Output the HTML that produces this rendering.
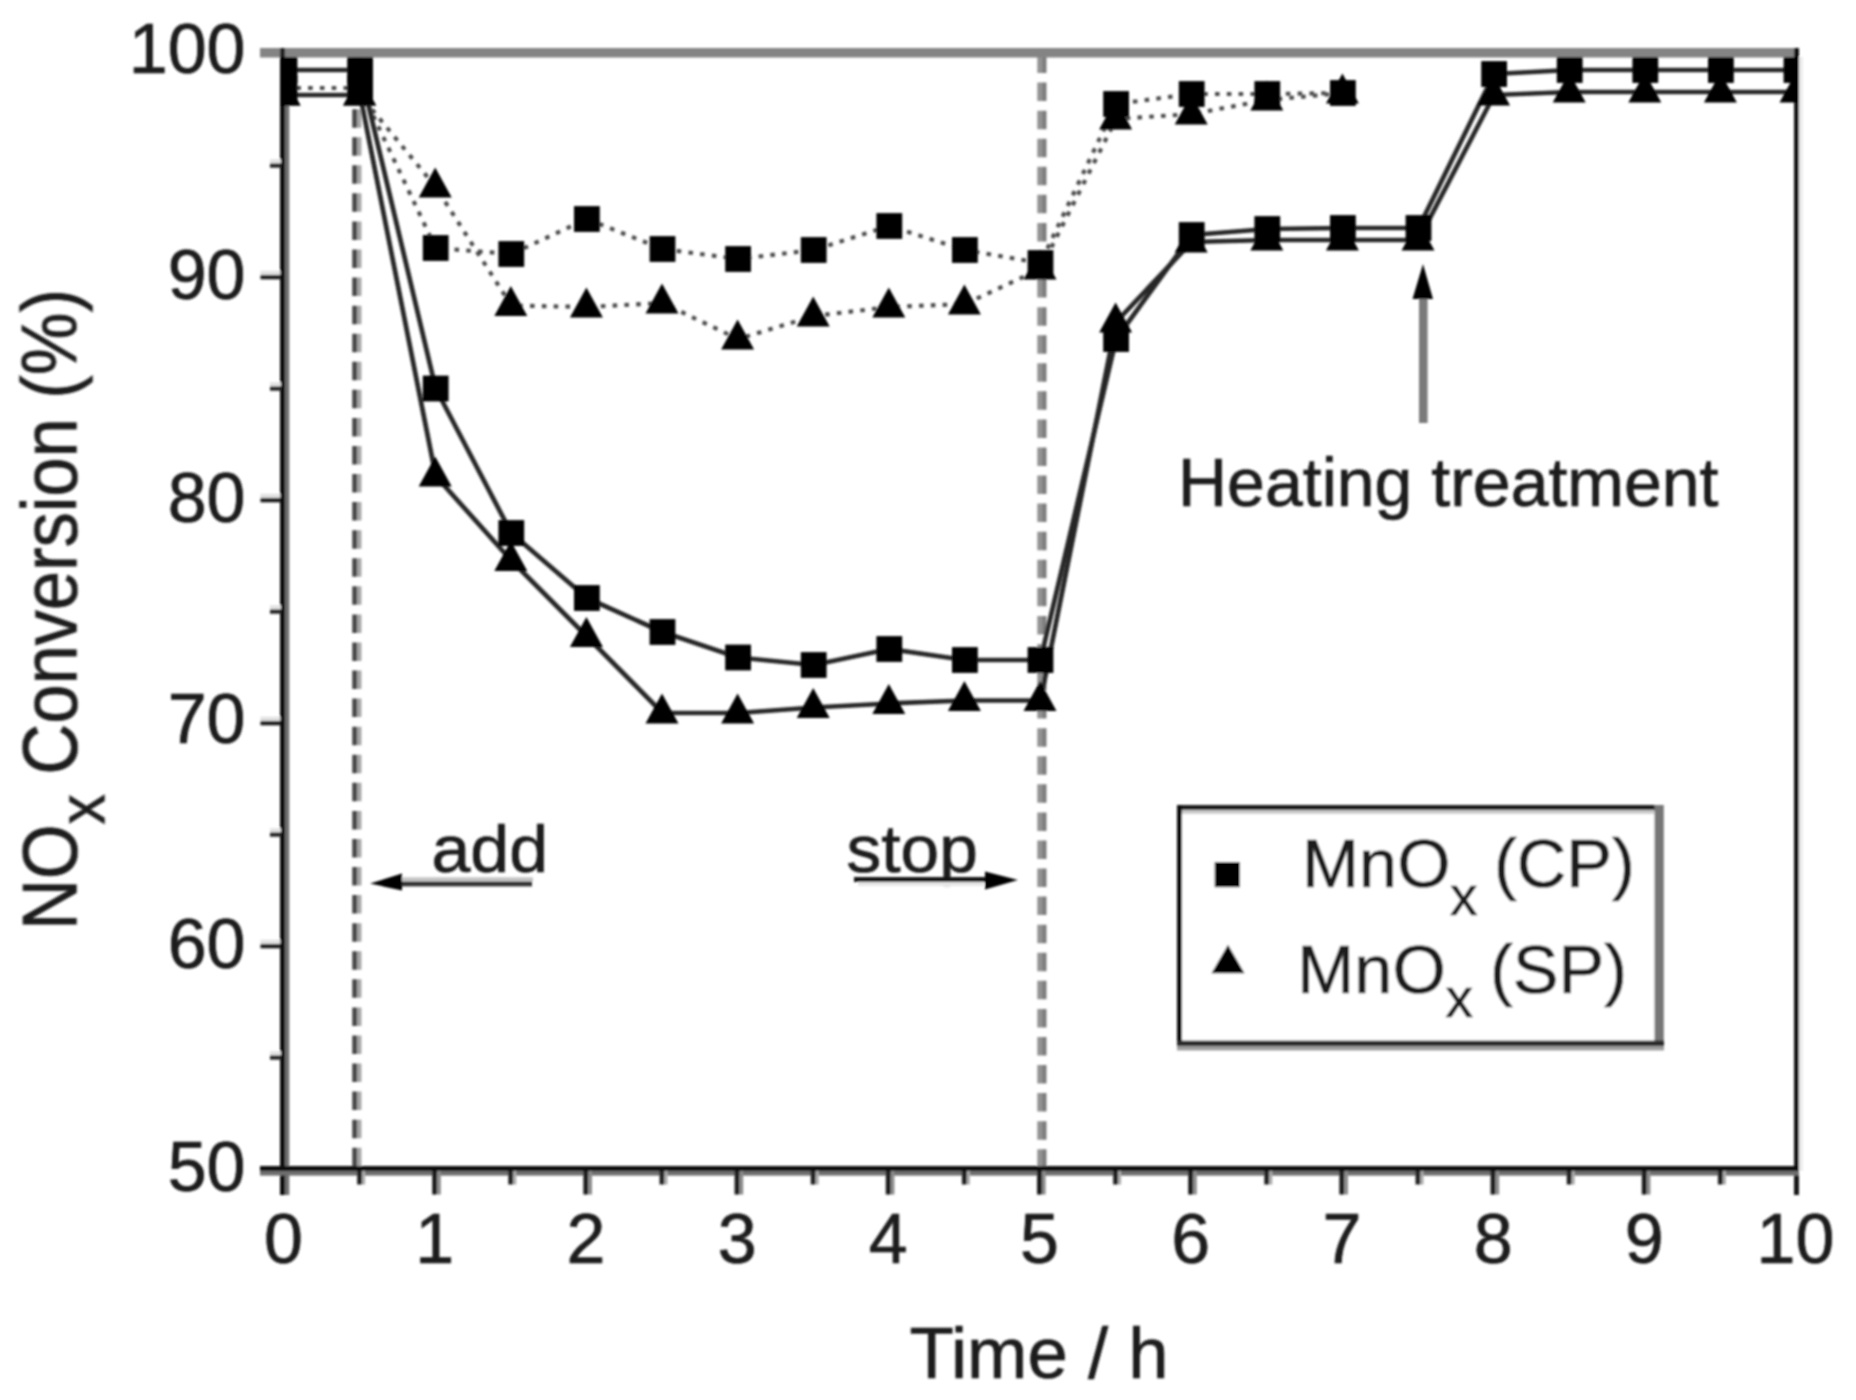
<!DOCTYPE html>
<html lang="en"><head><meta charset="utf-8"><title>NOx conversion vs time</title>
<style>
html,body{margin:0;padding:0;background:#fff;}
body{width:1856px;height:1400px;overflow:hidden;}
svg{display:block;}
text{font-family:"Liberation Sans", sans-serif;fill:#1c1c1c;stroke:#1c1c1c;stroke-width:0.7px;}
.tk{font-size:70px;}
.an{font-size:66.5px;}
.an2{font-size:68px;}
.lg{font-size:68.5px;}
.sub{font-size:55px;}
.xt{font-size:72.5px;}
.yt{font-size:77px;}
.ysub{font-size:66px;}
</style></head><body>
<svg width="1856" height="1400" viewBox="0 0 1856 1400">
<defs><filter id="soft" x="-2%" y="-2%" width="104%" height="104%"><feGaussianBlur stdDeviation="1.3"/></filter>
<clipPath id="plot"><rect x="280" y="50" width="1519" height="1122"/></clipPath></defs>
<rect x="0" y="0" width="1856" height="1400" fill="#ffffff"/>
<g filter="url(#soft)">
<line x1="354.6" y1="57" x2="354.6" y2="1166" stroke="#4a4a4a" stroke-width="4.8" stroke-dasharray="18.5 9.57" stroke-dashoffset="4.00"/>
<line x1="359.2" y1="57" x2="359.2" y2="1166" stroke="#a4a4a4" stroke-width="4.4" stroke-dasharray="18.5 9.57" stroke-dashoffset="4.00"/>
<line x1="1039.7" y1="57" x2="1039.7" y2="1166" stroke="#939393" stroke-width="4.8" stroke-dasharray="18.5 9.57" stroke-dashoffset="2.50"/>
<line x1="1044.3" y1="57" x2="1044.3" y2="1166" stroke="#7c7c7c" stroke-width="4.4" stroke-dasharray="18.5 9.57" stroke-dashoffset="2.50"/>
<rect x="260" y="48" width="1539" height="9.5" fill="#848484"/>
<rect x="1794" y="48" width="5" height="9.5" fill="#111"/>
<rect x="280" y="48" width="5" height="9.5" fill="#222"/>
<rect x="280" y="57" width="5" height="1138" fill="#0c0c0c"/>
<rect x="285" y="57" width="4.3" height="1138" fill="#6e6e6e"/>
<rect x="1794" y="57" width="5" height="1138" fill="#141414"/>
<rect x="1799" y="57" width="4" height="1114" fill="#ececec"/>
<rect x="260" y="1166" width="1539" height="5" fill="#0c0c0c"/>
<rect x="260" y="1171" width="1539" height="4.6" fill="#6e6e6e"/>
<rect x="270" y="1055.2" width="11" height="4.6" fill="#2a2a2a"/>
<rect x="270" y="1051.2" width="11" height="4" fill="#e2e2e2"/>
<rect x="260.5" y="943.7" width="20" height="4.6" fill="#1a1a1a"/>
<rect x="260.5" y="939.7" width="20" height="4" fill="#e2e2e2"/>
<rect x="270" y="832.2" width="11" height="4.6" fill="#2a2a2a"/>
<rect x="270" y="828.2" width="11" height="4" fill="#e2e2e2"/>
<rect x="260.5" y="720.7" width="20" height="4.6" fill="#1a1a1a"/>
<rect x="260.5" y="716.7" width="20" height="4" fill="#e2e2e2"/>
<rect x="270" y="609.2" width="11" height="4.6" fill="#2a2a2a"/>
<rect x="270" y="605.2" width="11" height="4" fill="#e2e2e2"/>
<rect x="260.5" y="497.7" width="20" height="4.6" fill="#1a1a1a"/>
<rect x="260.5" y="493.7" width="20" height="4" fill="#e2e2e2"/>
<rect x="270" y="386.2" width="11" height="4.6" fill="#2a2a2a"/>
<rect x="270" y="382.2" width="11" height="4" fill="#e2e2e2"/>
<rect x="260.5" y="274.7" width="20" height="4.6" fill="#1a1a1a"/>
<rect x="260.5" y="270.7" width="20" height="4" fill="#e2e2e2"/>
<rect x="270" y="163.2" width="11" height="4.6" fill="#2a2a2a"/>
<rect x="270" y="159.2" width="11" height="4" fill="#e2e2e2"/>
<rect x="357.1" y="1171" width="5" height="13.5" fill="#222"/>
<rect x="362.1" y="1171" width="3" height="13.5" fill="#aaa"/>
<rect x="432.2" y="1171" width="5" height="23.5" fill="#1a1a1a"/>
<rect x="437.2" y="1171" width="3.6" height="23.5" fill="#8a8a8a"/>
<rect x="508.3" y="1171" width="5" height="13.5" fill="#222"/>
<rect x="513.3" y="1171" width="3" height="13.5" fill="#aaa"/>
<rect x="583.4" y="1171" width="5" height="23.5" fill="#1a1a1a"/>
<rect x="588.4" y="1171" width="3.6" height="23.5" fill="#8a8a8a"/>
<rect x="659.5" y="1171" width="5" height="13.5" fill="#222"/>
<rect x="664.5" y="1171" width="3" height="13.5" fill="#aaa"/>
<rect x="734.6" y="1171" width="5" height="23.5" fill="#1a1a1a"/>
<rect x="739.6" y="1171" width="3.6" height="23.5" fill="#8a8a8a"/>
<rect x="810.7" y="1171" width="5" height="13.5" fill="#222"/>
<rect x="815.7" y="1171" width="3" height="13.5" fill="#aaa"/>
<rect x="885.8" y="1171" width="5" height="23.5" fill="#1a1a1a"/>
<rect x="890.8" y="1171" width="3.6" height="23.5" fill="#8a8a8a"/>
<rect x="961.9" y="1171" width="5" height="13.5" fill="#222"/>
<rect x="966.9" y="1171" width="3" height="13.5" fill="#aaa"/>
<rect x="1037.0" y="1171" width="5" height="23.5" fill="#1a1a1a"/>
<rect x="1042.0" y="1171" width="3.6" height="23.5" fill="#8a8a8a"/>
<rect x="1113.1" y="1171" width="5" height="13.5" fill="#222"/>
<rect x="1118.1" y="1171" width="3" height="13.5" fill="#aaa"/>
<rect x="1188.2" y="1171" width="5" height="23.5" fill="#1a1a1a"/>
<rect x="1193.2" y="1171" width="3.6" height="23.5" fill="#8a8a8a"/>
<rect x="1264.3" y="1171" width="5" height="13.5" fill="#222"/>
<rect x="1269.3" y="1171" width="3" height="13.5" fill="#aaa"/>
<rect x="1339.4" y="1171" width="5" height="23.5" fill="#1a1a1a"/>
<rect x="1344.4" y="1171" width="3.6" height="23.5" fill="#8a8a8a"/>
<rect x="1415.5" y="1171" width="5" height="13.5" fill="#222"/>
<rect x="1420.5" y="1171" width="3" height="13.5" fill="#aaa"/>
<rect x="1490.6" y="1171" width="5" height="23.5" fill="#1a1a1a"/>
<rect x="1495.6" y="1171" width="3.6" height="23.5" fill="#8a8a8a"/>
<rect x="1566.7" y="1171" width="5" height="13.5" fill="#222"/>
<rect x="1571.7" y="1171" width="3" height="13.5" fill="#aaa"/>
<rect x="1641.8" y="1171" width="5" height="23.5" fill="#1a1a1a"/>
<rect x="1646.8" y="1171" width="3.6" height="23.5" fill="#8a8a8a"/>
<rect x="1717.9" y="1171" width="5" height="13.5" fill="#222"/>
<rect x="1722.9" y="1171" width="3" height="13.5" fill="#aaa"/>
<g clip-path="url(#plot)">
<polyline points="284.5,88.0 360.1,88.0 435.7,248.0 511.3,254.0 586.9,219.0 662.5,249.0 738.1,259.0 813.7,250.0 889.3,226.0 964.9,250.0 1040.5,263.0 1116.1,104.0 1191.7,94.0 1267.3,94.0 1342.9,93.0" fill="none" stroke="#4c4c4c" stroke-width="4.1" stroke-dasharray="4.6 7.2"/>
<polyline points="284.5,95.0 360.1,95.0 435.7,187.0 511.3,305.5 586.9,307.0 662.5,303.0 738.1,339.0 813.7,316.0 889.3,307.0 964.9,304.0 1040.5,269.0 1116.1,119.0 1191.7,114.0 1267.3,100.0 1342.9,93.0" fill="none" stroke="#4c4c4c" stroke-width="4.1" stroke-dasharray="4.6 7.2"/>
<polyline points="284.5,70.0 360.1,70.0 435.7,388.5 511.3,533.0 586.9,598.0 662.5,632.0 738.1,657.5 813.7,665.0 889.3,649.0 964.9,660.0 1040.5,660.0 1116.1,339.0 1191.7,235.0 1267.3,229.0 1342.9,228.0 1418.5,228.0 1494.1,74.0 1569.7,70.0 1645.3,70.0 1720.9,70.0 1796.5,70.0" fill="none" stroke="#262626" stroke-width="4.7" stroke-linejoin="round"/>
<polyline points="284.5,95.0 360.1,95.0 435.7,476.0 511.3,560.5 586.9,636.5 662.5,713.0 738.1,713.0 813.7,707.5 889.3,703.5 964.9,700.5 1040.5,700.5 1116.1,322.0 1191.7,242.0 1267.3,240.0 1342.9,240.0 1418.5,240.0 1494.1,95.0 1569.7,92.0 1645.3,92.0 1720.9,92.0 1796.5,92.0" fill="none" stroke="#262626" stroke-width="4.7" stroke-linejoin="round"/>
<polygon points="284.0,75.5 300.5,105.5 267.5,105.5" fill="#000"/>
<polygon points="359.6,75.5 376.1,105.5 343.1,105.5" fill="#000"/>
<polygon points="435.2,167.5 451.7,197.5 418.7,197.5" fill="#000"/>
<polygon points="510.8,286.0 527.3,316.0 494.3,316.0" fill="#000"/>
<polygon points="586.4,287.5 602.9,317.5 569.9,317.5" fill="#000"/>
<polygon points="662.0,283.5 678.5,313.5 645.5,313.5" fill="#000"/>
<polygon points="737.6,319.5 754.1,349.5 721.1,349.5" fill="#000"/>
<polygon points="813.2,296.5 829.7,326.5 796.7,326.5" fill="#000"/>
<polygon points="888.8,287.5 905.3,317.5 872.3,317.5" fill="#000"/>
<polygon points="964.4,284.5 980.9,314.5 947.9,314.5" fill="#000"/>
<polygon points="1040.0,249.5 1056.5,279.5 1023.5,279.5" fill="#000"/>
<polygon points="1115.6,99.5 1132.1,129.5 1099.1,129.5" fill="#000"/>
<polygon points="1191.2,94.5 1207.7,124.5 1174.7,124.5" fill="#000"/>
<polygon points="1266.8,80.5 1283.3,110.5 1250.3,110.5" fill="#000"/>
<polygon points="1342.4,73.5 1358.9,103.5 1325.9,103.5" fill="#000"/>
<polygon points="284.0,75.5 300.5,105.5 267.5,105.5" fill="#000"/>
<polygon points="359.6,75.5 376.1,105.5 343.1,105.5" fill="#000"/>
<polygon points="435.2,456.5 451.7,486.5 418.7,486.5" fill="#000"/>
<polygon points="510.8,541.0 527.3,571.0 494.3,571.0" fill="#000"/>
<polygon points="586.4,617.0 602.9,647.0 569.9,647.0" fill="#000"/>
<polygon points="662.0,693.5 678.5,723.5 645.5,723.5" fill="#000"/>
<polygon points="737.6,693.5 754.1,723.5 721.1,723.5" fill="#000"/>
<polygon points="813.2,688.0 829.7,718.0 796.7,718.0" fill="#000"/>
<polygon points="888.8,684.0 905.3,714.0 872.3,714.0" fill="#000"/>
<polygon points="964.4,681.0 980.9,711.0 947.9,711.0" fill="#000"/>
<polygon points="1040.0,681.0 1056.5,711.0 1023.5,711.0" fill="#000"/>
<polygon points="1115.6,302.5 1132.1,332.5 1099.1,332.5" fill="#000"/>
<polygon points="1191.2,222.5 1207.7,252.5 1174.7,252.5" fill="#000"/>
<polygon points="1266.8,220.5 1283.3,250.5 1250.3,250.5" fill="#000"/>
<polygon points="1342.4,220.5 1358.9,250.5 1325.9,250.5" fill="#000"/>
<polygon points="1418.0,220.5 1434.5,250.5 1401.5,250.5" fill="#000"/>
<polygon points="1493.6,75.5 1510.1,105.5 1477.1,105.5" fill="#000"/>
<polygon points="1569.2,72.5 1585.7,102.5 1552.7,102.5" fill="#000"/>
<polygon points="1644.8,72.5 1661.3,102.5 1628.3,102.5" fill="#000"/>
<polygon points="1720.4,72.5 1736.9,102.5 1703.9,102.5" fill="#000"/>
<polygon points="1796.0,72.5 1812.5,102.5 1779.5,102.5" fill="#000"/>
<rect x="271.6" y="75.1" width="25.8" height="25.8" fill="#000"/>
<rect x="347.2" y="75.1" width="25.8" height="25.8" fill="#000"/>
<rect x="422.8" y="235.1" width="25.8" height="25.8" fill="#000"/>
<rect x="498.4" y="241.1" width="25.8" height="25.8" fill="#000"/>
<rect x="574.0" y="206.1" width="25.8" height="25.8" fill="#000"/>
<rect x="649.6" y="236.1" width="25.8" height="25.8" fill="#000"/>
<rect x="725.2" y="246.1" width="25.8" height="25.8" fill="#000"/>
<rect x="800.8" y="237.1" width="25.8" height="25.8" fill="#000"/>
<rect x="876.4" y="213.1" width="25.8" height="25.8" fill="#000"/>
<rect x="952.0" y="237.1" width="25.8" height="25.8" fill="#000"/>
<rect x="1027.6" y="250.1" width="25.8" height="25.8" fill="#000"/>
<rect x="1103.2" y="91.1" width="25.8" height="25.8" fill="#000"/>
<rect x="1178.8" y="81.1" width="25.8" height="25.8" fill="#000"/>
<rect x="1254.4" y="81.1" width="25.8" height="25.8" fill="#000"/>
<rect x="1330.0" y="80.1" width="25.8" height="25.8" fill="#000"/>
<rect x="271.6" y="57.1" width="25.8" height="25.8" fill="#000"/>
<rect x="347.2" y="57.1" width="25.8" height="25.8" fill="#000"/>
<rect x="422.8" y="375.6" width="25.8" height="25.8" fill="#000"/>
<rect x="498.4" y="520.1" width="25.8" height="25.8" fill="#000"/>
<rect x="574.0" y="585.1" width="25.8" height="25.8" fill="#000"/>
<rect x="649.6" y="619.1" width="25.8" height="25.8" fill="#000"/>
<rect x="725.2" y="644.6" width="25.8" height="25.8" fill="#000"/>
<rect x="800.8" y="652.1" width="25.8" height="25.8" fill="#000"/>
<rect x="876.4" y="636.1" width="25.8" height="25.8" fill="#000"/>
<rect x="952.0" y="647.1" width="25.8" height="25.8" fill="#000"/>
<rect x="1027.6" y="647.1" width="25.8" height="25.8" fill="#000"/>
<rect x="1103.2" y="326.1" width="25.8" height="25.8" fill="#000"/>
<rect x="1178.8" y="222.1" width="25.8" height="25.8" fill="#000"/>
<rect x="1254.4" y="216.1" width="25.8" height="25.8" fill="#000"/>
<rect x="1330.0" y="215.1" width="25.8" height="25.8" fill="#000"/>
<rect x="1405.6" y="215.1" width="25.8" height="25.8" fill="#000"/>
<rect x="1481.2" y="61.1" width="25.8" height="25.8" fill="#000"/>
<rect x="1556.8" y="57.1" width="25.8" height="25.8" fill="#000"/>
<rect x="1632.4" y="57.1" width="25.8" height="25.8" fill="#000"/>
<rect x="1708.0" y="57.1" width="25.8" height="25.8" fill="#000"/>
<rect x="1783.6" y="57.1" width="25.8" height="25.8" fill="#000"/>
</g>
<text class="tk" x="245.5" y="1190.5" text-anchor="end">50</text>
<text class="tk" x="245.5" y="968.0" text-anchor="end">60</text>
<text class="tk" x="245.5" y="743.0" text-anchor="end">70</text>
<text class="tk" x="245.5" y="521.5" text-anchor="end">80</text>
<text class="tk" x="245.5" y="298.5" text-anchor="end">90</text>
<text class="tk" x="245.5" y="73.0" text-anchor="end">100</text>
<text class="tk" x="283.5" y="1263" text-anchor="middle">0</text>
<text class="tk" x="434.7" y="1263" text-anchor="middle">1</text>
<text class="tk" x="585.9" y="1263" text-anchor="middle">2</text>
<text class="tk" x="737.1" y="1263" text-anchor="middle">3</text>
<text class="tk" x="888.3" y="1263" text-anchor="middle">4</text>
<text class="tk" x="1039.5" y="1263" text-anchor="middle">5</text>
<text class="tk" x="1190.7" y="1263" text-anchor="middle">6</text>
<text class="tk" x="1341.9" y="1263" text-anchor="middle">7</text>
<text class="tk" x="1493.1" y="1263" text-anchor="middle">8</text>
<text class="tk" x="1644.3" y="1263" text-anchor="middle">9</text>
<text class="tk" x="1795.5" y="1263" text-anchor="middle">10</text>
<text class="xt" x="1039" y="1378" text-anchor="middle">Time / h</text>
<text class="yt" transform="translate(76.5,930) rotate(-90) scale(0.915,1)">NO<tspan class="ysub" dy="28">x</tspan><tspan dy="-28"> Conversion (%)</tspan></text>
<text class="an" transform="translate(431.5,871.5) scale(1.05,1)">add</text>
<rect x="398" y="877.3" width="135" height="4.2" fill="#c4c4c4"/>
<rect x="385" y="881.5" width="147" height="4.9" fill="#333"/>
<polygon points="370,883.5 402,873.5 402,890.5" fill="#000"/>
<text class="an" transform="translate(846.5,871.5) scale(1.045,1)">stop</text>
<rect x="854" y="877" width="140" height="5" fill="#161616"/>
<rect x="858" y="882" width="126" height="4" fill="#e6e6e6"/>
<polygon points="1018,880 985,871.5 985,889.5" fill="#000"/>
<text class="an2" x="1178" y="505.5">Heating treatment</text>
<rect x="1419" y="296" width="8.6" height="127" fill="#7a7a7a"/>
<polygon points="1423,264 1433,299 1412.5,299" fill="#000"/>
<rect x="1177" y="805" width="487" height="245" fill="#fff"/>
<rect x="1177" y="805" width="482" height="5.2" fill="#1a1a1a"/>
<rect x="1182" y="810.2" width="472" height="3.6" fill="#c8c8c8"/>
<rect x="1177" y="805" width="5" height="241" fill="#0c0c0c"/>
<rect x="1654.5" y="805" width="9.3" height="241" fill="#767676"/>
<rect x="1177" y="1040.6" width="487" height="5.4" fill="#2a2a2a"/>
<rect x="1177" y="1046" width="487" height="4.4" fill="#9c9c9c"/>
<rect x="1214.7" y="862.0" width="25.2" height="25.2" fill="#000"/>
<polygon points="1228.0,944.8 1244.5,973.2 1211.5,973.2" fill="#000"/>
<text class="lg" y="886.5"><tspan x="1302">MnO</tspan><tspan class="sub" x="1450" dy="28.5">x</tspan><tspan x="1494" dy="-28.5">(CP)</tspan></text>
<text class="lg" y="992.5"><tspan x="1297.3">MnO</tspan><tspan class="sub" x="1445.5" dy="24">x</tspan><tspan x="1490" dy="-24">(SP)</tspan></text>
</g>
</svg>
</body></html>
